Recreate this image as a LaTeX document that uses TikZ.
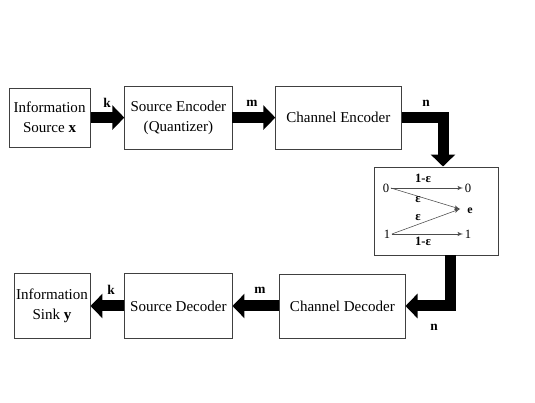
\documentclass[tikz,border=0pt]{standalone}
\usepackage{fontspec}
\setmainfont{Liberation Serif}
\usepackage{tikz}
\usetikzlibrary{arrows,arrows.meta}
\tikzstyle{block} = [rectangle, draw=black!75, line width=0.7pt, align=center, inner sep=0pt, font=\fontsize{10.7}{14.2}\selectfont]
\tikzstyle{bigline} = [draw, line width=0.275cm, line join=miter, -{Triangle[length=0.3cm,width=0.6cm]}]
\tikzstyle{thinline} = [draw, black!70, line width=0.4pt, -latex']
\tikzstyle{lbl} = [font=\fontsize{9.5}{11}\selectfont\bfseries]
\tikzstyle{sym} = [font=\fontsize{9}{11}\selectfont, inner sep=1pt]

\begin{document}
\begin{tikzpicture}
\useasboundingbox (0,0) rectangle (13.375,10.05);
% top row
\node [block, minimum width=2.03cm, minimum height=1.48cm] (info-src) at (1.24,7.11) {Information\\Source \textbf{x}};
\node [block, minimum width=2.68cm, minimum height=1.58cm] (src-enc) at (4.46,7.11) {Source Encoder\\(Quantizer)};
\node [block, minimum width=3.13cm, minimum height=1.58cm] (ch-enc) at (8.46,7.11) {Channel Encoder};
\path [bigline] (info-src) -- (src-enc);
\path [bigline] (src-enc) -- (ch-enc);
\node [lbl] at (2.675,7.475) {k};
\node [lbl] at (6.3,7.475) {m};
\node [lbl] at (10.65,7.475) {n};
% channel
\node [block, minimum width=3.1cm, minimum height=2.2cm] (channel) at (10.9,4.775) {};
\path [bigline] (ch-enc.east) -| ([xshift=0.175cm]channel.north);
\node [sym] (in-0) at (9.65,5.35) {0};
\node [sym] (out-0) at (11.7,5.35) {0};
\node [sym] (in-1) at (9.675,4.2) {1};
\node [sym] (out-1) at (11.7,4.2) {1};
\node [sym, font=\fontsize{8.5}{10}\selectfont\bfseries] (out-e) at (11.75,4.775) {e};
\coordinate (meet) at (11.5,4.825);
\path [thinline] (in-0) -- (out-0);
\path [thinline] (in-1) -- (out-1);
\path [thinline] (in-0.east) -- (meet);
\path [thinline] (in-1.east) -- (meet);
\node [sym, font=\fontsize{9}{11}\selectfont\bfseries] at (10.575,5.6) {1-ε};
\node [sym, font=\fontsize{9}{11}\selectfont\bfseries] at (10.45,5.05) {ε};
\node [sym, font=\fontsize{9}{11}\selectfont\bfseries] at (10.45,4.6) {ε};
\node [sym, font=\fontsize{9}{11}\selectfont\bfseries] at (10.575,4.025) {1-ε};
% bottom row
\node [block, minimum width=3.13cm, minimum height=1.6cm] (ch-dec) at (8.56,2.4) {Channel Decoder};
\node [block, minimum width=2.68cm, minimum height=1.63cm] (src-dec) at (4.46,2.4) {Source Decoder};
\node [block, minimum width=1.9cm, minimum height=1.63cm] (info-sink) at (1.3,2.4) {Information\\Sink \textbf{y}};
\path [bigline] ([xshift=0.35cm]channel.south) |- (ch-dec.east);
\path [bigline] (ch-dec) -- (src-dec);
\path [bigline] (src-dec) -- (info-sink);
\node [lbl] at (10.85,1.875) {n};
\node [lbl] at (6.5,2.8) {m};
\node [lbl] at (2.775,2.8) {k};
\end{tikzpicture}
\end{document}
